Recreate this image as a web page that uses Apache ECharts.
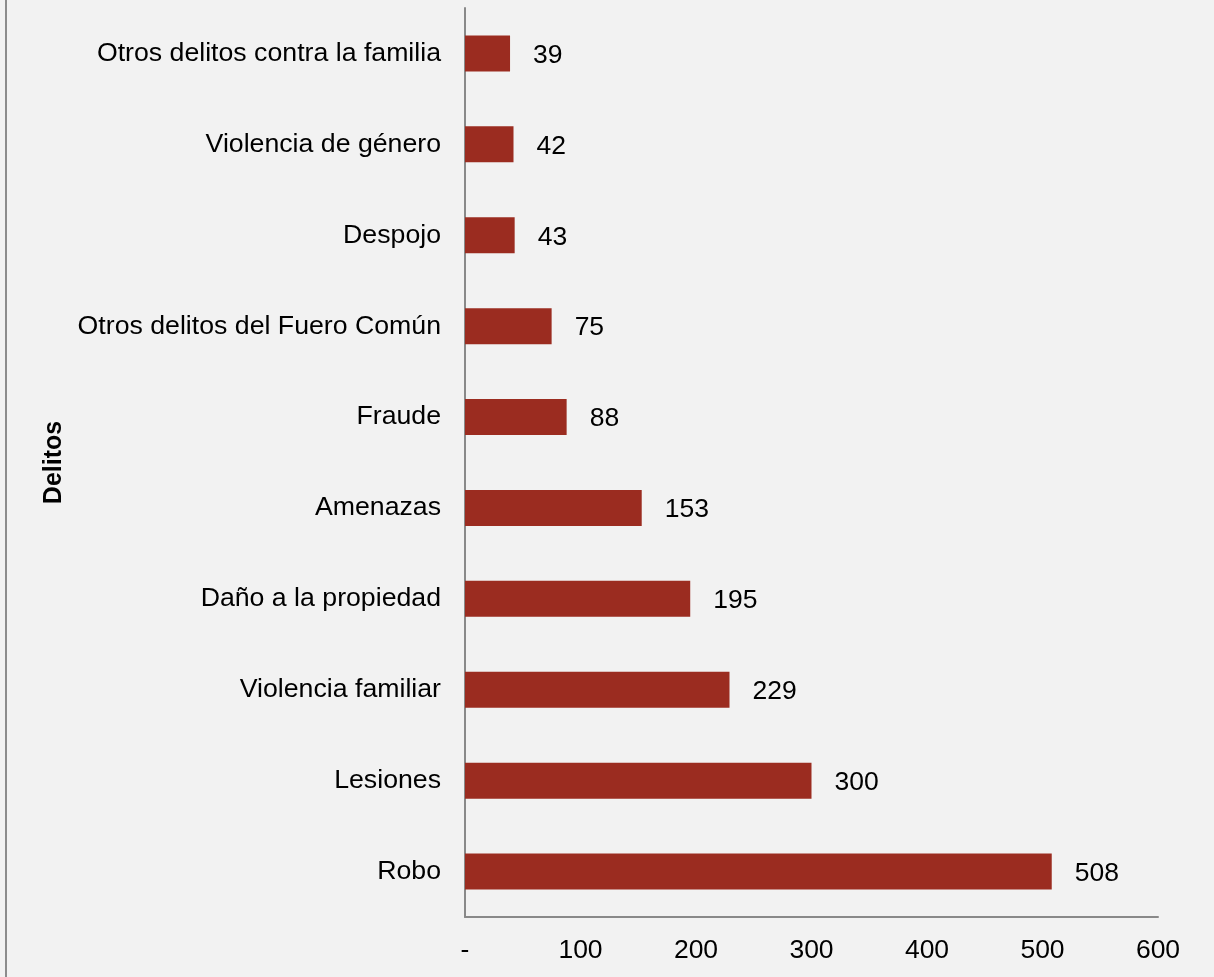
<!DOCTYPE html>
<html>
<head>
<meta charset="utf-8">
<script src="https://cdn.jsdelivr.net/npm/echarts@6/dist/echarts.min.js"></script>
<style>
html,body{margin:0;padding:0;background:#f2f2f2;}
#chart{width:1214px;height:977px;}
</style>
</head>
<body>
<div id="chart"></div>
<script>
// Data (bottom to top as drawn on a category y-axis)
const categories = ["Robo", "Lesiones", "Violencia familiar", "Daño a la propiedad", "Amenazas", "Fraude", "Otros delitos del Fuero Común", "Despojo", "Violencia de género", "Otros delitos contra la familia"];
const values = [508, 300, 229, 195, 153, 88, 75, 43, 42, 39];
const xTicks = [0, 100, 200, 300, 400, 500, 600];
const axisTitle = "Delitos";

const chart = echarts.init(document.getElementById('chart'), null, {renderer: 'canvas'});
const font = "'Liberation Sans', Arial, sans-serif";
chart.setOption({
  backgroundColor: '#f2f2f2',
  animation: false,
  grid: {left: 465, right: 56, top: 8, bottom: 60, containLabel: false},
  xAxis: {
    type: 'value', min: xTicks[0], max: xTicks[xTicks.length - 1], interval: 100,
    axisLine: {show: true, lineStyle: {color: '#898989', width: 2}},
    axisTick: {show: false},
    splitLine: {show: false},
    axisLabel: {
      fontFamily: font, fontSize: 26.5, color: '#000', margin: 20,
      formatter: v => v === 0 ? '-' : String(v)
    }
  },
  yAxis: {
    type: 'category', data: categories,
    name: axisTitle, nameLocation: 'middle', nameGap: 394, nameRotate: 90,
    nameTextStyle: {fontFamily: font, fontSize: 25, fontWeight: 'bold', color: '#000'},
    axisLine: {show: true, lineStyle: {color: '#898989', width: 2}},
    axisTick: {show: false},
    axisLabel: {fontFamily: font, fontSize: 26.7, color: '#000', margin: 24}
  },
  series: [{
    type: 'bar', data: values, barWidth: 36,
    itemStyle: {color: '#9b2c20'},
    label: {show: true, position: 'right', distance: 23, offset: [0, 2], fontFamily: font, fontSize: 26.5, color: '#000'}
  }],
  graphic: [{
    type: 'line', shape: {x1: 6, y1: 0, x2: 6, y2: 977},
    style: {stroke: '#8c8c8c', lineWidth: 2}
  }]
});
</script>
</body>
</html>
